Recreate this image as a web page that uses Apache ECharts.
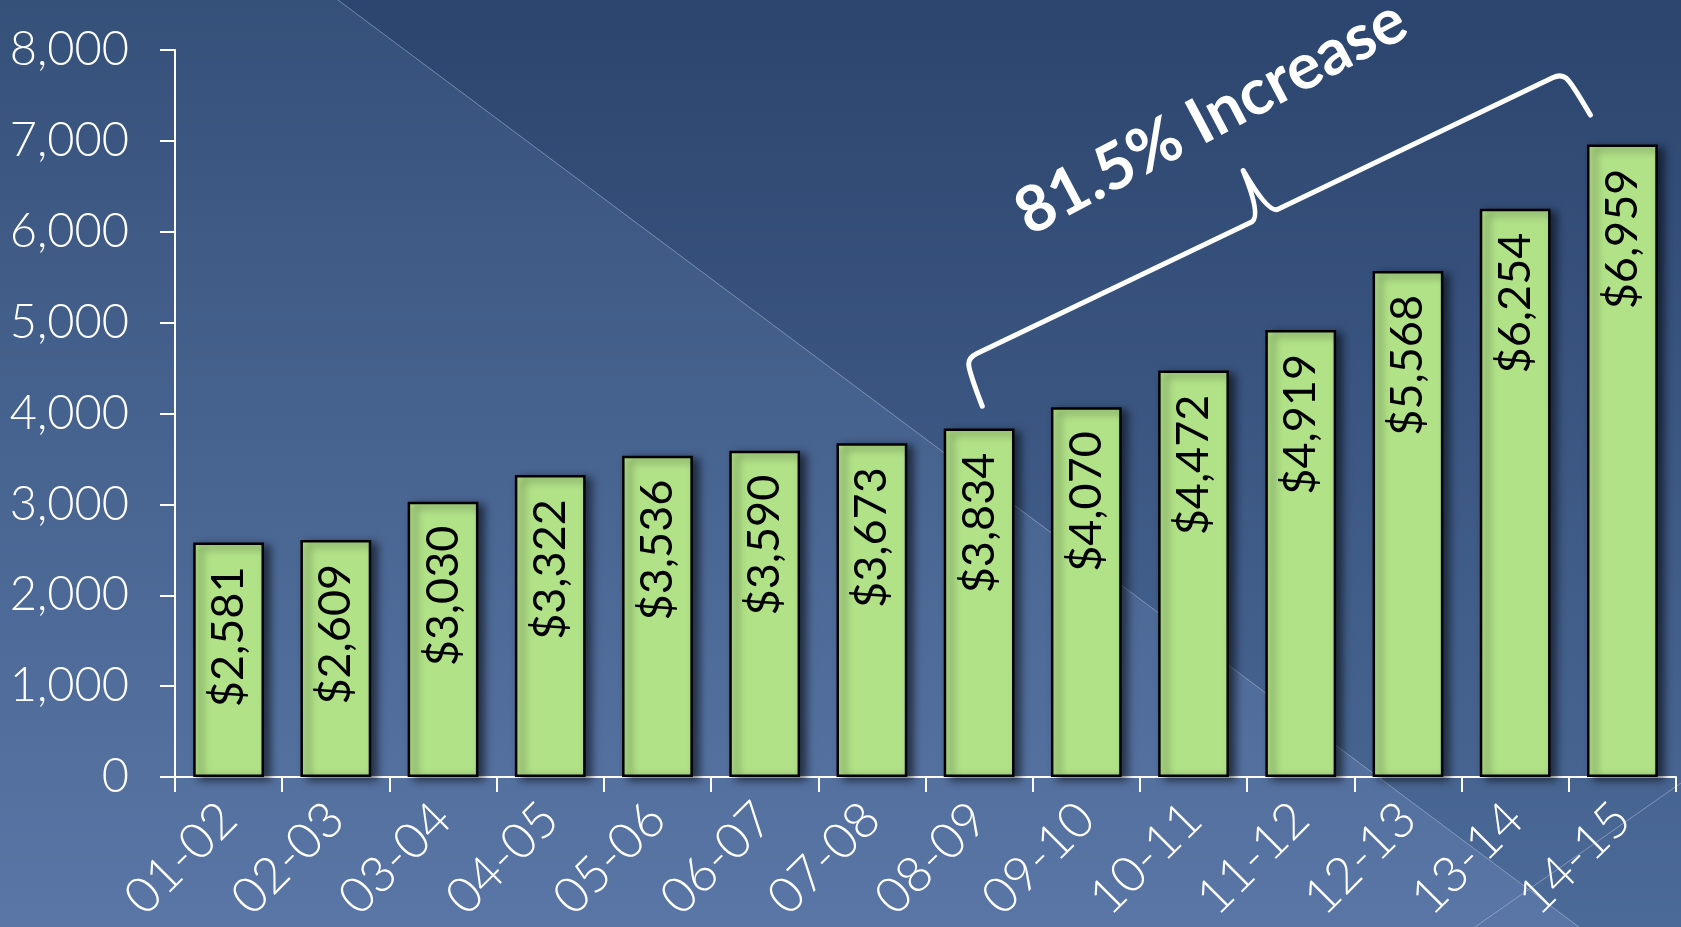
<!DOCTYPE html>
<html>
<head>
<meta charset="utf-8">
<script src="https://cdn.jsdelivr.net/npm/echarts/dist/echarts.min.js"></script>
<style>
html,body{margin:0;padding:0;background:#3f5b87;overflow:hidden}
#chart{width:1681px;height:927px}
</style>
</head>
<body>
<div id="chart"></div>
<script>
// ---- data ----
const categories = ['01-02','02-03','03-04','04-05','05-06','06-07','07-08','08-09','09-10','10-11','11-12','12-13','13-14','14-15'];
const values = [2581, 2609, 3030, 3322, 3536, 3590, 3673, 3834, 4070, 4472, 4919, 5568, 6254, 6959];
const yTickValues = [0, 1000, 2000, 3000, 4000, 5000, 6000, 7000, 8000];
const annotationText = '81.5% Increase';
const bracketFrom = '08-09';
const bracketTo = '14-15';

// ---- chart ----
const W = 1681, H = 927;
const chart = echarts.init(document.getElementById('chart'), null, {renderer: 'canvas', width: W, height: H});
const fmt = v => v.toLocaleString('en-US');

const bgGraphics = [
  {type: 'rect', z: -100, silent: true, shape: {x: 0, y: 0, width: W, height: H},
   style: {fill: new echarts.graphic.LinearGradient(0, 0, 0, 1, [
     {offset: 0, color: '#35517a'}, {offset: 1, color: '#5a76a6'}])}},
  {type: 'polygon', z: -99, silent: true,
   shape: {points: [[338, 0], [W, 0], [W, H], [1579, H]]},
   style: {fill: new echarts.graphic.LinearGradient(0, 0, 0, 1, [
     {offset: 0, color: '#2c456e'}, {offset: 1, color: '#4c6a98'}])}},
  {type: 'line', z: -98, silent: true, shape: {x1: 338, y1: 0, x2: 1579, y2: H},
   style: {stroke: 'rgba(200,210,230,0.45)', lineWidth: 1}},
  {type: 'line', z: -98, silent: true, shape: {x1: 1475, y1: H, x2: W, y2: 783},
   style: {stroke: 'rgba(200,210,230,0.45)', lineWidth: 1}}
];

const iFrom = categories.indexOf(bracketFrom);
const iTo = categories.indexOf(bracketTo);

function renderBracket(params, api) {
  const a = api.coord([iFrom, values[iFrom]]);
  const b = api.coord([iTo, values[iTo]]);
  const left = [a[0] - 13, a[1] - 70];
  const right = [b[0] - 59, b[1] - 72];
  const dx = right[0] - left[0], dy = right[1] - left[1];
  const L = Math.sqrt(dx * dx + dy * dy);
  const rot = Math.atan2(-dy, dx);
  const t = L * 0.5;
  const h = 50;
  const pathData =
    'M -6 ' + h + ' Q -3 12 0 6 Q 3 0 12 0 L ' + (t - 14) + ' 0 Q ' + (t - 3) + ' -2 ' + t + ' ' + (-h) +
    ' Q ' + (t + 4) + ' -2 ' + (t + 14) + ' 0 L ' + (L - 12) + ' 0 Q ' + (L - 3) + ' 0 ' + L + ' 6 Q ' +
    (L + 3) + ' 12 ' + (L + 6) + ' ' + h;
  return {
    type: 'group',
    x: left[0], y: left[1],
    rotation: rot,
    children: [
      {type: 'path', shape: {pathData: pathData},
       style: {stroke: '#ffffff', lineWidth: 5, fill: 'transparent', lineJoin: 'round', lineCap: 'round'}},
      {type: 'text', x: t - 6, y: -112, rotation: 0.04,
       style: {text: annotationText, fill: '#ffffff', font: 'bold 64px Lato',
               align: 'center', verticalAlign: 'middle', textAlign: 'center', textVerticalAlign: 'middle'}}
    ]
  };
}

const option = {
  animation: false,
  backgroundColor: 'transparent',
  grid: {left: 175, right: 5, top: 50, bottom: 150, containLabel: false, outerBoundsMode: 'none'},
  xAxis: {
    type: 'category',
    data: categories,
    axisLine: {lineStyle: {color: '#ffffff', width: 2}},
    axisTick: {show: true, length: 15, lineStyle: {color: '#ffffff', width: 2}, alignWithLabel: false},
    axisLabel: {rotate: 45, margin: 34, color: '#ffffff', fontSize: 50, fontFamily: 'Lato', fontWeight: 300, interval: 0}
  },
  yAxis: {
    type: 'value',
    min: yTickValues[0],
    max: yTickValues[yTickValues.length - 1],
    interval: yTickValues[1] - yTickValues[0],
    splitLine: {show: false},
    axisLine: {show: true, lineStyle: {color: '#ffffff', width: 2}},
    axisTick: {show: true, length: 15, lineStyle: {color: '#ffffff', width: 2}},
    axisLabel: {margin: 46, color: '#ffffff', fontSize: 47, fontFamily: 'Lato', fontWeight: 300, formatter: v => fmt(v)}
  },
  series: [{
    type: 'bar',
    data: values,
    barWidth: '66%',
    itemStyle: {
      color: '#b2e288',
      borderColor: '#000000',
      borderWidth: 2.5,
      shadowColor: 'rgba(0,0,0,0.55)',
      shadowBlur: 8,
      shadowOffsetX: 6,
      shadowOffsetY: 3
    },
    label: {
      show: true,
      position: 'insideTop',
      rotate: 90,
      align: 'right',
      verticalAlign: 'middle',
      distance: 24,
      color: '#000000',
      fontSize: 45,
      fontFamily: 'Lato',
      fontWeight: 400,
      formatter: p => '$' + fmt(p.value)
    }
  }, {
    type: 'custom',
    coordinateSystem: 'cartesian2d',
    data: [[iFrom, values[iFrom]]],
    renderItem: renderBracket,
    clip: false,
    silent: true,
    z: 50
  }],
  graphic: bgGraphics
};
chart.setOption(option);
</script>
</body>
</html>
